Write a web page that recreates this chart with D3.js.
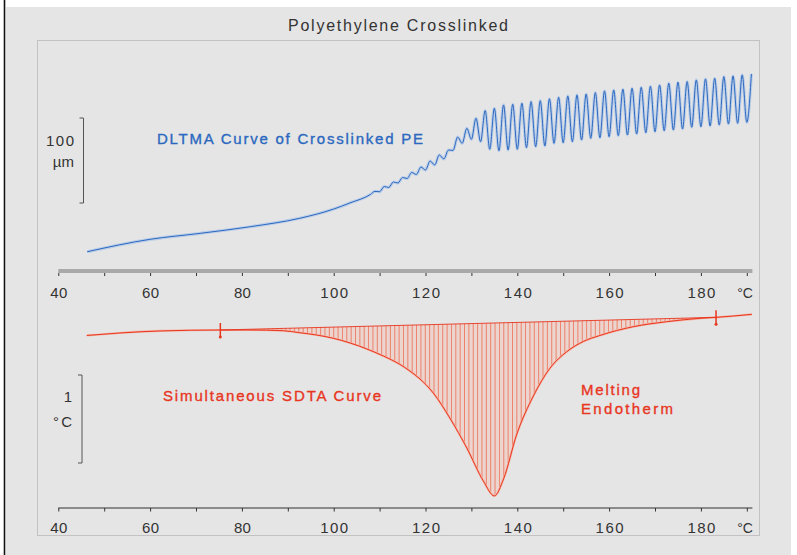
<!DOCTYPE html>
<html>
<head>
<meta charset="utf-8">
<script src="https://cdn.jsdelivr.net/npm/d3@7/dist/d3.min.js"></script>
<style>
  html, body { margin: 0; padding: 0; background: #fff; }
  svg { display: block; font-family: 'Liberation Sans', Arial, sans-serif; }
</style>
</head>
<body>
<figure id="chart" style="margin:0"></figure>
<script>
// DLTMA curve (upper): temperature in °C, displacement in µm (peaks/troughs)
const dltmaTemp = [46.3, 60, 70.9, 81.8, 92.6, 100, 103.5, 108,
  109, 110, 111, 112, 113, 114, 115, 116, 117, 118, 119, 120, 121, 122, 123, 124, 125, 126,
  127, 128, 129, 130, 131, 132, 133, 134, 135, 136, 137, 138, 139, 140, 141, 142, 143, 144,
  145, 146, 147, 148, 149, 150, 151, 152, 153, 154, 155, 156, 157, 158, 159, 160, 161, 162,
  163, 164, 165, 166, 167, 168, 169, 170, 171, 172, 173, 174, 175, 176, 177, 178, 179, 180,
  181, 182, 183, 184, 185, 186, 187, 188, 189, 190, 191];
const dltmaMicron = [-2.0, 12.6, 19.6, 27.4, 37.3, 48.2, 55.3, 65.3,
  69.0, 68.6, 74.7, 73.5, 80.0, 78.8, 85.3, 84.1, 91.2, 88.8, 97.6, 94.1, 104.7, 100.0, 111.8, 107.1, 117.6, 117.1,
  132.9, 125.5, 143.2, 130.2, 154.9, 127.4, 163.9, 118.5, 166.7, 116.8, 170.6, 117.6, 171.4, 118.5, 172.6, 120.4, 174.5, 121.5,
  175.6, 122.4, 177.9, 125.5, 179.6, 126.2, 181.2, 127.4, 182.4, 129.4, 183.5, 131.4, 185.1, 132.1, 187.1, 133.3, 188.2, 134.5,
  189.1, 135.3, 190.2, 136.5, 191.4, 138.0, 192.6, 139.2, 194.1, 140.4, 196.1, 141.2, 197.3, 142.4, 198.0, 144.4, 200.0, 145.1,
  201.2, 145.9, 202.0, 147.1, 203.9, 148.2, 204.7, 149.1, 205.9, 150.2, 207.1];

// SDTA curve (lower): temperature in °C, delta T in °C
const sdtaTemp = [46.2, 53.4, 62.2, 75.3, 81.8, 89.0, 92.6, 96.3, 99.9, 103.6, 107.2, 110.8, 114.4, 116.6,
  118.8, 121.7, 125.3, 129.0, 132.6, 135.0, 137.0, 139.9, 143.5, 147.1, 150.8, 154.4, 158.0, 165.3,
  172.5, 179.8, 183.3, 187.1, 191.1];
const sdtaDelta = [-0.062, -0.034, -0.011, 0, 0, -0.008, -0.031, -0.057, -0.094, -0.148, -0.215, -0.295, -0.39, -0.466,
  -0.557, -0.716, -1.0, -1.341, -1.716, -1.886, -1.693, -1.182, -0.75, -0.435, -0.245, -0.13, -0.062, 0.038,
  0.094, 0.133, 0.144, 0.159, 0.178];

// integration limits (baseline end points)
const markerTemp = [75.3, 183.3];
const markerDelta = [0, 0.144];

const labelTicks = [40, 60, 80, 100, 120, 140, 160, 180];
const minorTicks = [50, 70, 90, 110, 130, 150, 170, 190];

const width = 797;
const height = 555;
const blue = '#2b68c0';
const red = '#e8361f';
const ink = '#333';

const svg = d3.select('#chart')
  .append('svg')
  .attr('width', width)
  .attr('height', height);

// backdrop
svg.append('rect').attr('x', 6).attr('y', 7).attr('width', 785).attr('height', 548).attr('fill', '#e5e5e5');
svg.append('line').attr('x1', 4.5).attr('x2', 4.5).attr('y1', 0).attr('y2', height)
  .attr('stroke', '#111').attr('stroke-width', 1.6);
svg.append('rect').attr('x', 37.5).attr('y', 40.5).attr('width', 722).attr('height', 495)
  .attr('fill', 'none').attr('stroke', '#c2c2c2');

function label(t, px, py, opts) {
  const o = Object.assign({ size: 15, color: ink, anchor: 'start' }, opts);
  const el = svg.append('text')
    .attr('x', px).attr('y', py)
    .attr('text-anchor', o.anchor)
    .attr('font-size', o.size)
    .attr('fill', o.color)
    .text(t);
  if (o.len) el.attr('textLength', o.len).attr('lengthAdjust', 'spacing');
  if (o.bold) el.attr('stroke', o.color).attr('stroke-width', 0.35);
  return el;
}

label('Polyethylene Crosslinked', 288, 31, { size: 16, len: 220 });

const x = d3.scaleLinear().domain([40, 191]).range([58.3, 751.4]);
const yTop = d3.scaleLinear().domain([-23.5, 247]).range([270, 40]);
const yBot = d3.scaleLinear().domain([-2.023, 0.341]).range([508, 300]);

function drawAxis(yPos, thick, labelY) {
  const g = svg.append('g').attr('transform', `translate(0,${yPos})`);
  g.call(d3.axisBottom(x).tickValues(labelTicks.concat(minorTicks)).tickSize(3)
    .tickFormat(d => labelTicks.includes(d) ? d : ''));
  g.select('.domain')
    .attr('d', `M${x(40)},0H${x(191) + 1}`)
    .attr('stroke', thick ? '#a9a9a9' : '#333')
    .attr('stroke-width', thick ? 4 : 1.2);
  g.selectAll('.tick line').attr('stroke', '#333').attr('y1', thick ? 2 : 0).attr('y2', thick ? 5 : 3.5);
  g.selectAll('.tick text')
    .attr('font-family', "'Liberation Sans', Arial, sans-serif")
    .attr('font-size', 15)
    .attr('fill', ink)
    .attr('y', labelY).attr('dy', 0)
    .each(function (d) {
      if (labelTicks.includes(d)) {
        d3.select(this).attr('textLength', String(d).length === 3 ? 28 : 17).attr('lengthAdjust', 'spacing');
      }
    });
  label('°C', 745, yPos + labelY, { anchor: 'middle', size: 14 });
}

function scaleBar(xPos, y0, y1) {
  svg.append('path')
    .attr('d', `M${xPos - 4},${y0}H${xPos}V${y1}H${xPos - 4}`)
    .attr('fill', 'none').attr('stroke', '#555').attr('stroke-width', 1);
}

// ---------- upper panel (DLTMA)
drawAxis(271, true, 27);
scaleBar(83.5, 118, 203);
label('100', 74, 145.5, { anchor: 'end', len: 28 });
label('µm', 74, 167, { anchor: 'end' });

const dltma = dltmaTemp.map((t, i) => [t, dltmaMicron[i]]);
const topLine = d3.line().x(d => x(d[0])).y(d => yTop(d[1])).curve(d3.curveMonotoneX);

svg.append('path').attr('d', topLine(dltma))
  .attr('fill', 'none').attr('stroke', '#bccee8').attr('stroke-width', 3.2);
svg.append('path').attr('d', topLine(dltma))
  .attr('fill', 'none').attr('stroke', blue).attr('stroke-width', 1);

label('DLTMA Curve of Crosslinked PE', 157, 143.5, { size: 15, color: blue, len: 266, bold: true });

// ---------- lower panel (SDTA)
drawAxis(508, false, 24.5);
scaleBar(82, 375, 463);
label('1', 72, 402, { anchor: 'end' });
label('°C', 72, 426.5, { anchor: 'end', len: 19 });

const sdta = sdtaTemp.map((t, i) => [t, sdtaDelta[i]]);
const botLine = d3.line().x(d => x(d[0])).y(d => yBot(d[1])).curve(d3.curveMonotoneX);
const baseline = d3.scaleLinear().domain(markerTemp).range(markerDelta);

const hatchG = svg.append('g');
svg.append('path').attr('d', botLine(sdta))
  .attr('fill', 'none').attr('stroke', '#f4b4a4').attr('stroke-width', 2.2);
const curve = svg.append('path').attr('d', botLine(sdta))
  .attr('fill', 'none').attr('stroke', red).attr('stroke-width', 1);

// look up the drawn curve's y at a given x
const node = curve.node();
const len = node.getTotalLength();
const samples = [];
for (let s = 0; s <= len; s += 0.5) samples.push(node.getPointAtLength(s));
const bis = d3.bisector(p => p.x).left;
function curveY(px) {
  const i = Math.min(samples.length - 1, Math.max(1, bis(samples, px)));
  const a = samples[i - 1], b = samples[i];
  const k = b.x === a.x ? 0 : (px - a.x) / (b.x - a.x);
  return a.y + k * (b.y - a.y);
}

const hatchT = d3.range(markerTemp[0], markerTemp[1] + 0.01, 0.95);
hatchG.append('path')
  .attr('d', d3.area()
    .x(t => x(t))
    .y0(t => yBot(baseline(t)))
    .y1(t => Math.max(yBot(baseline(t)), curveY(x(t))))(hatchT))
  .attr('fill', '#f3c6b8').attr('opacity', 0.5);
hatchG.selectAll('line')
  .data(hatchT)
  .join('line')
  .attr('x1', t => x(t)).attr('x2', t => x(t))
  .attr('y1', t => yBot(baseline(t)))
  .attr('y2', t => Math.max(yBot(baseline(t)), curveY(x(t))))
  .attr('stroke', '#ee5a3e').attr('stroke-width', 0.8).attr('opacity', 0.85);

svg.append('line')
  .attr('x1', x(markerTemp[0])).attr('y1', yBot(markerDelta[0]))
  .attr('x2', x(markerTemp[1])).attr('y2', yBot(markerDelta[1]))
  .attr('stroke', red).attr('stroke-width', 0.9);

markerTemp.forEach((t, i) => {
  const mx = x(t), my = yBot(markerDelta[i]);
  svg.append('line').attr('x1', mx).attr('x2', mx).attr('y1', my - 7).attr('y2', my + 7)
    .attr('stroke', red).attr('stroke-width', 1.5);
  svg.append('circle').attr('cx', mx).attr('cy', my + 7).attr('r', 1.5).attr('fill', red);
});

label('Simultaneous SDTA Curve', 163, 400.5, { color: red, len: 218, bold: true });
label('Melting', 581, 394.5, { color: red, len: 59, bold: true });
label('Endotherm', 581, 413.5, { color: red, len: 92, bold: true });
</script>
</body>
</html>
